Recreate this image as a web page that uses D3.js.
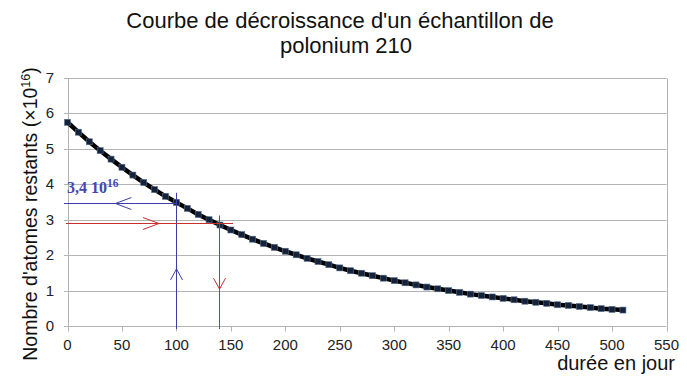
<!DOCTYPE html>
<html><head><meta charset="utf-8">
<script src="https://cdn.jsdelivr.net/npm/d3@7"></script>
<style>body{margin:0;background:#fff}svg{display:block}</style>
</head><body>
<script>
const days = [0,10,20,30,40,50,60,70,80,90,100,110,120,130,140,150,160,170,180,190,200,210,220,230,240,250,260,270,280,290,300,310,320,330,340,350,360,370,380,390,400,410,420,430,440,450,460,470,480,490,500,510];
const atoms = [5.75,5.47,5.20,4.95,4.71,4.48,4.26,4.05,3.85,3.66,3.49,3.32,3.15,3.00,2.85,2.71,2.58,2.45,2.33,2.22,2.11,2.01,1.91,1.82,1.73,1.64,1.56,1.49,1.42,1.35,1.28,1.22,1.16,1.10,1.05,1.00,0.95,0.90,0.86,0.82,0.78,0.74,0.70,0.67,0.64,0.60,0.58,0.55,0.52,0.49,0.47,0.45];
const xTicks = [0,50,100,150,200,250,300,350,400,450,500,550];
const yTicks = [0,1,2,3,4,5,6,7];
const readBlue = {t:100, n:3.47, label:"3,4 10", sup:"16"};
const readRed = {t:139, n:2.9};

const W=687,H=383;
const svg=d3.select("body").append("svg").attr("width",W).attr("height",H);
const x=d3.scaleLinear().domain([0,550]).range([67.5,666.5]);
const y=d3.scaleLinear().domain([0,7]).range([326,78]);
const grid="#b4b4b4";

svg.append("g").selectAll("line").data(yTicks).join("line")
  .attr("x1",x(0)).attr("x2",x(550)).attr("y1",d=>Math.round(y(d))+0.5).attr("y2",d=>Math.round(y(d))+0.5)
  .attr("stroke",grid).attr("stroke-width",1);
svg.append("line").attr("x1",Math.round(x(550))+0.5).attr("x2",Math.round(x(550))+0.5).attr("y1",Math.round(y(7))+0.5).attr("y2",Math.round(y(0))+0.5).attr("stroke",grid);
svg.append("line").attr("x1",Math.round(x(0))+0.5).attr("x2",Math.round(x(0))+0.5).attr("y1",Math.round(y(7))+0.5).attr("y2",Math.round(y(0))+0.5).attr("stroke",grid);
svg.append("g").selectAll("line").data(xTicks).join("line")
  .attr("x1",d=>Math.round(x(d))+0.5).attr("x2",d=>Math.round(x(d))+0.5)
  .attr("y1",Math.round(y(0))+0.5).attr("y2",Math.round(y(0))+5.5).attr("stroke",grid);
svg.append("g").selectAll("line").data(yTicks).join("line")
  .attr("x1",Math.round(x(0))-4).attr("x2",Math.round(x(0))+0.5)
  .attr("y1",d=>Math.round(y(d))+0.5).attr("y2",d=>Math.round(y(d))+0.5).attr("stroke",grid);

const font="'Liberation Sans', Arial, sans-serif";
svg.append("g").selectAll("text").data(xTicks).join("text")
  .attr("x",d=>x(d)).attr("y",350).attr("text-anchor","middle")
  .attr("font-family",font).attr("font-size",15).attr("fill","#222").text(d=>d);
svg.append("g").selectAll("text").data(yTicks).join("text")
  .attr("x",54).attr("y",d=>y(d)+5).attr("text-anchor","end")
  .attr("font-family",font).attr("font-size",15).attr("fill","#222").text(d=>d);

svg.append("text").attr("x",340).attr("y",28).attr("text-anchor","middle").attr("font-family",font).attr("font-size",22).attr("fill","#111")
  .text("Courbe de décroissance d'un échantillon de");
svg.append("text").attr("x",346).attr("y",53).attr("text-anchor","middle").attr("font-family",font).attr("font-size",22).attr("fill","#111")
  .text("polonium 210");
svg.append("text").attr("x",675).attr("y",370).attr("text-anchor","end").attr("font-family",font).attr("font-size",20).attr("fill","#111").text("durée en jour");
const yl=svg.append("text").attr("transform","translate(37,214) rotate(-90)").attr("text-anchor","middle").attr("font-family",font).attr("font-size",19.5).attr("fill","#111");
yl.append("tspan").text("Nombre d'atomes restants (×10");
yl.append("tspan").attr("font-size",12.5).attr("dy",-7).text("16");
yl.append("tspan").attr("dy",7).text(")");

const pts=days.map((d,i)=>[d,atoms[i]]);
svg.append("path").datum(pts).attr("fill","none").attr("stroke","#000").attr("stroke-width",4.5)
  .attr("d",d3.line().x(d=>x(d[0])).y(d=>y(d[1])));
svg.append("g").selectAll("rect").data(pts).join("rect")
  .attr("x",d=>x(d[0])-3).attr("y",d=>y(d[1])-3).attr("width",6).attr("height",6)
  .attr("fill","#16213a").attr("stroke","#55708f").attr("stroke-width",0.6);

const blue="#3c3ca6", red="#c8302f";
function arrowH(px,py,dir,col){
  svg.append("path").attr("d",`M${px-dir*16},${py-6}L${px},${py}L${px-dir*16},${py+6}`).attr("fill","none").attr("stroke",col).attr("stroke-width",1);
}
function arrowV(px,py,dir,col){
  svg.append("path").attr("d",`M${px-6},${py-dir*11}L${px},${py}L${px+6},${py-dir*11}`).attr("fill","none").attr("stroke",col).attr("stroke-width",1);
}
const by=Math.round(y(readBlue.n))+0.5, bx=Math.round(x(readBlue.t))+0.5;
svg.append("line").attr("x1",64).attr("x2",bx).attr("y1",by).attr("y2",by).attr("stroke",blue);
svg.append("line").attr("x1",bx).attr("x2",bx).attr("y1",y(3.76)).attr("y2",329).attr("stroke",blue);
arrowH(x(44),by,-1,blue);
arrowV(bx,y(1.61),-1,blue);
const ry=Math.round(y(readRed.n))+0.5, rx=Math.round(x(readRed.t))+0.5;
svg.append("line").attr("x1",66).attr("x2",x(152)).attr("y1",ry).attr("y2",ry).attr("stroke",red);
svg.append("line").attr("x1",rx).attr("x2",rx).attr("y1",y(3.12)).attr("y2",329).attr("stroke",red);
arrowH(x(84),ry,1,red);
arrowV(rx,y(1.04),1,red);

const bt=svg.append("text").attr("x",67).attr("y",193).attr("font-family","'Liberation Serif','Times New Roman',serif").attr("font-weight","bold").attr("font-size",16).attr("fill","#4646b4");
bt.append("tspan").text(readBlue.label);
bt.append("tspan").attr("font-size",11.5).attr("dy",-6).text(readBlue.sup);
</script>
</body></html>
